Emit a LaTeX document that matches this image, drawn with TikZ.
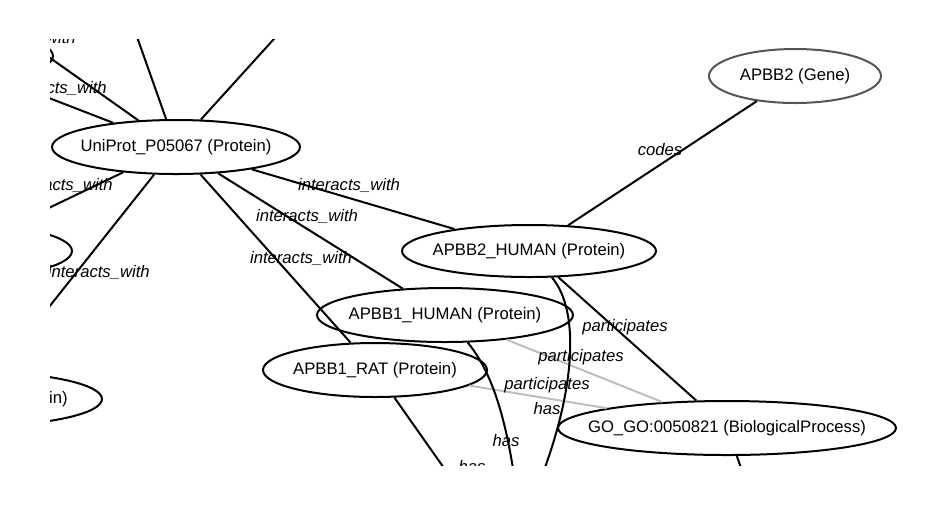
\documentclass[tikz,border=0pt]{standalone}
\usepackage{fontspec}
\setmainfont{Liberation Sans}
\usetikzlibrary{shapes.geometric}
\definecolor{edgegray}{RGB}{190,190,190}
\definecolor{genegray}{RGB}{85,85,85}
\begin{document}
\begin{tikzpicture}[x=0.75pt,y=-0.75pt,
  ent/.style={ellipse, draw=black, line width=1.5pt, inner sep=0pt, minimum height=40.5pt},
  ntxt/.style={font=\fontsize{12.5}{15}\selectfont, text=black, inner sep=0pt},
  elbl/.style={font=\fontsize{12.5}{15}\selectfont\itshape, text=black, inner sep=0pt},
  rel/.style={line width=1.5pt, draw=black},
  relg/.style={line width=1.5pt, draw=edgegray}]
\useasboundingbox (0,0) rectangle (945,512);
\begin{scope}
\clip (50,39) rectangle (945,465);
% nodes
\node[ent, minimum width=186pt, label={[ntxt]center:UniProt\_P05067 (Protein)}] (u) at (176,147) {};
\node[ent, draw=genegray, minimum width=129pt, label={[ntxt]center:APBB2 (Gene)}] (g) at (795,76) {};
\node[ent, minimum width=190.5pt, minimum height=39pt, label={[ntxt]center:APBB2\_HUMAN (Protein)}] (h2) at (529,251) {};
\node[ent, minimum width=192pt, label={[ntxt]center:APBB1\_HUMAN (Protein)}] (h1) at (445,315) {};
\node[ent, minimum width=168pt, label={[ntxt]center:APBB1\_RAT (Protein)}] (r) at (375,370) {};
\node[ent, minimum width=253.5pt, label={[ntxt]center:{GO\_GO:0050821 (BiologicalProcess)}}] (go) at (727,428) {};
\node[ent, minimum width=169.5pt] (pl0) at (-60,56) {};
\node[ent, minimum width=169.5pt] (pl1) at (-41,251) {};
\node[ent, minimum width=189pt] (pl2) at (-24,399) {};
\node[ntxt, anchor=east] (pl2t) at (68,399) {(Protein)};
% free ends
\coordinate (c1) at (-70,-27);
\coordinate (c3) at (119,-14);
\coordinate (c4) at (322,-14);
\coordinate (cA) at (530,505);
\coordinate (cB) at (518,505);
\coordinate (cC) at (470,505);
\coordinate (cG) at (754,505);
% edges
\draw[rel] (u) -- (c1);
\draw[rel] (u) -- (pl0);
\draw[rel] (u) -- (c3);
\draw[rel] (u) -- (c4);
\draw[rel] (u) -- (pl1);
\draw[rel] (u) -- (pl2);
\draw[rel] (u) -- (r);
\draw[rel] (u) -- (h1);
\draw[rel] (u) -- (h2);
\draw[rel] (g) -- (h2);
\draw[rel] (h2) -- (go);
\draw[relg] (h1) -- (go);
\draw[relg] (r) -- (go);
\draw[rel] (h2) .. controls (580,310) and (578,395) .. (cA);
\draw[rel] (h1) .. controls (492,372) and (508,420) .. (cB);
\draw[rel] (r) -- (cC);
\draw[rel] (go) -- (cG);
% edge labels
\node[elbl, anchor=base east] (l0) at (76,43) {interacts\_with};
\node[elbl, anchor=east] (l1) at (107,88) {interacts\_with};
\node[elbl, anchor=east] (l5) at (113,185) {interacts\_with};
\node[elbl, anchor=east] (l6) at (150,272) {interacts\_with};
\node[elbl] (l7) at (301,258) {interacts\_with};
\node[elbl] (l8) at (307,216) {interacts\_with};
\node[elbl] (l9) at (349,185) {interacts\_with};
\node[elbl] (lc) at (660,150) {codes};
\node[elbl] (lp1) at (625,327) {participates};
\node[elbl] (lp2) at (581,357) {participates};
\node[elbl] (lp3) at (547,385) {participates};
\node[elbl] (lhA) at (547,409) {has};
\node[elbl] (lhB) at (506,441) {has};
\node[elbl] (lhC) at (472,467) {has};
\end{scope}
\end{tikzpicture}
\end{document}
